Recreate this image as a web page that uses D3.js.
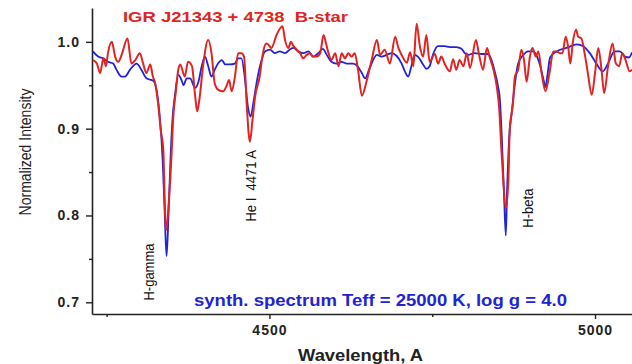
<!DOCTYPE html>
<html>
<head>
<meta charset="utf-8">
<script src="https://cdn.jsdelivr.net/npm/d3@7"></script>
<style>
  html, body { margin: 0; padding: 0; background: #fff; }
  svg { display: block; }
  text { white-space: pre; }
</style>
</head>
<body>
<svg id="chart" width="632" height="364"></svg>
<script>
// Observed spectrum of IGR J21343+4738 (wavelength in Angstrom, normalized flux)
const obsWave = [4229,4235,4240,4245,4249,4252,4258,4263,4268,4273,4282,4288,4294,4301,4306,4311,4317,4321,4324,4329,4333,4337,4339,4341,4346,4350,4352,4356,4360,4363,4370,4375,4381,4386,4389,4393,4398,4406,4411,4416,4421,4429,4434,4438,4442,4447,4452,4457,4461,4465,4470,4474,4478,4485,4490,4495,4498,4503,4511,4520,4524,4529,4533,4537,4542,4547,4552,4557,4562,4567,4572,4578,4583,4587,4590,4595,4601,4606,4611,4616,4621,4626,4631,4636,4642,4649,4657,4665,4670,4677,4685,4693,4698,4703,4711,4716,4721,4726,4731,4736,4741,4746,4754,4759,4764,4769,4777,4782,4787,4792,4798,4803,4808,4817,4822,4828,4834,4838,4844,4849,4853,4856,4859,4863,4867,4869,4874,4877,4882,4887,4891,4895,4900,4904,4909,4913,4918,4924,4930,4936,4941,4946,4950,4955,4959,4962,4966,4971,4974,4979,4984,4989,4995,5000,5005,5010,5014,5020,5027,5032,5037,5042,5047,5053,5057];
const obsFlux = [0.979,0.975,0.964,0.981,0.972,0.987,1.000,0.983,0.977,0.985,1.004,0.975,0.979,0.987,0.975,0.964,0.974,0.960,0.954,0.929,0.899,0.876,0.822,0.783,0.822,0.876,0.910,0.941,0.968,0.974,0.960,0.977,0.972,0.937,0.920,0.937,0.972,1.002,0.987,0.952,0.945,0.943,0.949,0.956,0.943,0.960,0.987,0.987,0.983,0.929,0.885,0.910,0.937,0.960,0.987,0.998,0.997,0.993,1.008,1.018,1.002,0.993,1.000,0.995,0.991,0.987,0.981,0.985,0.987,0.983,0.983,0.987,1.008,0.998,0.989,0.979,0.987,0.972,0.987,0.981,0.987,0.983,0.987,0.968,0.938,0.954,0.979,1.002,0.985,0.991,0.975,1.006,0.993,0.985,0.976,0.988,0.972,1.021,0.995,0.983,1.008,0.977,0.986,0.975,0.983,0.975,0.966,0.980,0.968,0.979,0.972,0.987,0.970,1.002,0.985,0.968,0.993,0.983,0.968,0.949,0.922,0.879,0.841,0.808,0.841,0.899,0.929,0.960,0.968,0.991,0.979,0.954,0.983,0.993,0.983,0.989,0.964,0.943,0.964,0.989,0.989,0.987,0.987,1.006,0.993,0.975,1.000,1.014,1.006,1.004,0.987,0.964,0.939,0.964,0.993,0.968,0.941,0.972,0.998,0.975,0.972,0.987,0.979,0.966,0.968];

// Synthetic spectrum, Teff = 25000 K, log g = 4.0
const synWave = [4229,4237,4245,4252,4260,4265,4273,4278,4286,4296,4304,4311,4322,4327,4332,4336,4339,4342,4345,4348,4351,4355,4360,4365,4368,4373,4378,4386,4391,4396,4401,4406,4411,4416,4421,4427,4432,4439,4447,4452,4457,4462,4467,4471,4476,4481,4488,4493,4501,4508,4516,4524,4531,4537,4544,4552,4560,4567,4575,4582,4588,4595,4603,4611,4619,4629,4635,4642,4647,4654,4665,4672,4680,4688,4695,4703,4708,4713,4718,4723,4728,4736,4741,4746,4751,4759,4769,4777,4787,4795,4800,4805,4815,4826,4836,4841,4846,4851,4854,4857,4860,4863,4865,4868,4872,4877,4882,4890,4897,4905,4911,4916,4921,4924,4927,4931,4941,4956,4972,4982,4992,5002,5012,5020,5030,5038,5046,5052,5057];
const synFlux = [0.989,0.983,0.981,0.977,0.975,0.968,0.960,0.960,0.968,0.975,0.967,0.958,0.955,0.943,0.910,0.864,0.806,0.753,0.801,0.864,0.910,0.939,0.962,0.956,0.950,0.958,0.958,0.947,0.954,0.972,0.983,0.972,0.960,0.968,0.975,0.979,0.974,0.974,0.975,0.981,0.981,0.960,0.925,0.914,0.933,0.956,0.979,0.989,0.991,0.987,0.989,0.987,0.991,0.993,0.989,0.987,0.989,0.983,0.987,0.992,0.985,0.977,0.975,0.977,0.975,0.975,0.972,0.964,0.958,0.970,0.985,0.983,0.985,0.987,0.984,0.975,0.966,0.960,0.972,0.985,0.983,0.974,0.969,0.972,0.985,0.995,0.995,0.994,0.994,0.992,0.987,0.985,0.987,0.986,0.986,0.979,0.966,0.949,0.933,0.887,0.830,0.777,0.830,0.887,0.918,0.952,0.975,0.985,0.989,0.989,0.983,0.972,0.956,0.948,0.962,0.982,0.989,0.993,0.997,0.995,0.987,0.975,0.966,0.975,0.989,0.989,0.983,0.982,0.988];

const yMajorTicks = [0.7, 0.8, 0.9, 1.0];
const yMinorTicks = [0.75, 0.85, 0.95];
const xMajorTicks = [4500, 5000];
const xMinorTicks = [4250, 4750];

// Line identifications: label text, wavelength and flux where the text starts
const lineLabels = ["H-gamma", "He I  4471 A", "H-beta"];
const lineLabelWave = [4322, 4479, 4905];
const lineLabelFlux = [0.702, 0.793, 0.786];

const svg = d3.select("#chart");
const margin = { left: 92, right: 0, top: 8, bottom: 50 };
const W = 632, H = 364;
const stretch = 1.15; // horizontal stretch of the lettering

const x = d3.scaleLinear().domain([4227.5, 5056.8]).range([margin.left, W - margin.right]);
const y = d3.scaleLinear().domain([0.6865, 1.039]).range([H - margin.bottom, margin.top]);

const axisColor = "#222";
const font = "Arial, 'Liberation Sans', Helvetica, sans-serif";

// Y axis: labelled major ticks plus short minor ticks
svg.append("g").attr("transform", `translate(${margin.left},0)`)
  .call(d3.axisLeft(y).tickValues(yMajorTicks).tickFormat(d3.format(".1f")).tickSize(6).tickSizeOuter(0).tickPadding(6));
svg.append("g").attr("transform", `translate(${margin.left},0)`)
  .call(d3.axisLeft(y).tickValues(yMinorTicks).tickFormat("").tickSize(3).tickSizeOuter(0))
  .select(".domain").remove();

// X axis
svg.append("g").attr("transform", `translate(0,${H - margin.bottom})`)
  .call(d3.axisBottom(x).tickValues(xMajorTicks).tickFormat(d3.format("d")).tickSize(5).tickSizeOuter(0).tickPadding(6));
svg.append("g").attr("transform", `translate(0,${H - margin.bottom})`)
  .call(d3.axisBottom(x).tickValues(xMinorTicks).tickFormat("").tickSize(3).tickSizeOuter(0))
  .select(".domain").remove();

svg.selectAll(".domain").attr("stroke", axisColor).attr("stroke-width", 1.6);
svg.selectAll(".tick line").attr("stroke", axisColor).attr("stroke-width", 1.4);
svg.selectAll(".tick text").attr("fill", "#222").style("font-family", font)
  .style("font-size", "14px").style("font-weight", "bold").style("letter-spacing", "1px");

// Axis titles
svg.append("text")
  .attr("transform", `translate(31,152) scale(${stretch},1) rotate(-90)`)
  .attr("text-anchor", "middle")
  .style("font-family", font).style("font-size", "14px").attr("fill", "#222")
  .text("Normalized Intensity");

svg.append("text")
  .attr("x", 298).attr("y", 361)
  .attr("textLength", 125).attr("lengthAdjust", "spacingAndGlyphs")
  .style("font-family", font).style("font-size", "16px").style("font-weight", "bold").attr("fill", "#222")
  .text("Wavelength, A");

// Spectra
const line = d3.line().curve(d3.curveMonotoneX).x(d => x(d[0])).y(d => y(d[1]));
const synData = synWave.map((w, i) => [w, synFlux[i]]);
const obsData = obsWave.map((w, i) => [w, obsFlux[i]]);

svg.append("path").datum(synData)
  .attr("fill", "none").attr("stroke", "#2323d6").attr("stroke-width", 1.8)
  .attr("stroke-linejoin", "round").attr("d", line);

svg.append("path").datum(obsData)
  .attr("fill", "none").attr("stroke", "#e02424").attr("stroke-width", 2)
  .attr("stroke-linejoin", "round").attr("d", line);

// Spectral line identifications
lineLabels.forEach((t, i) => {
  svg.append("text")
    .attr("transform", `translate(${x(lineLabelWave[i])},${y(lineLabelFlux[i])}) scale(${stretch},1) rotate(-90)`)
    .attr("text-anchor", "start")
    .style("font-family", font).style("font-size", "13px").attr("fill", "#111")
    .text(t);
});

// Title and model annotation
svg.append("text")
  .attr("x", 123).attr("y", 21.5)
  .attr("textLength", 225).attr("lengthAdjust", "spacingAndGlyphs")
  .style("font-family", font).style("font-size", "14px").style("font-weight", "bold")
  .attr("fill", "#e02424")
  .text("IGR J21343 + 4738  B-star");

svg.append("text")
  .attr("x", 194).attr("y", 305.5)
  .attr("textLength", 373).attr("lengthAdjust", "spacingAndGlyphs")
  .style("font-family", font).style("font-size", "16px").style("font-weight", "bold")
  .attr("fill", "#2323d6")
  .text("synth. spectrum Teff = 25000 K, log g = 4.0");
</script>
</body>
</html>
